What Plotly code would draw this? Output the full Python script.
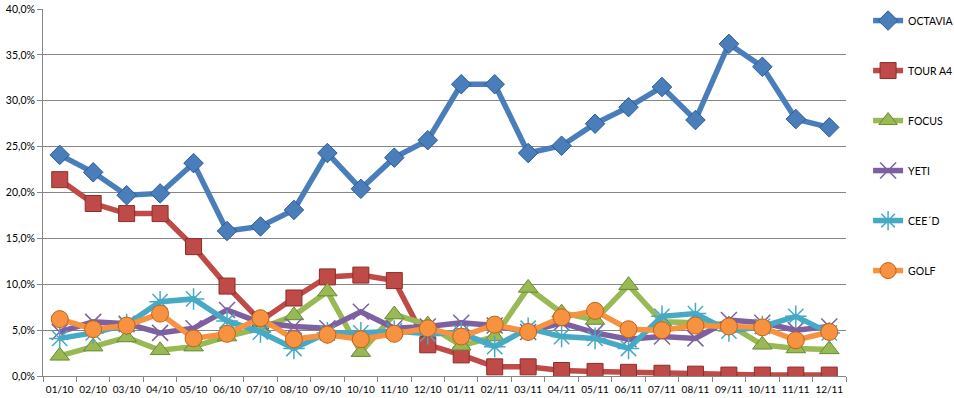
import plotly.graph_objects as go

dates = ["01/10", "02/10", "03/10", "04/10", "05/10", "06/10", "07/10", "08/10", "09/10", "10/10", "11/10", "12/10",
         "01/11", "02/11", "03/11", "04/11", "05/11", "06/11", "07/11", "08/11", "09/11", "10/11", "11/11", "12/11"]

octavia = [24.1, 22.2, 19.7, 19.9, 23.2, 15.8, 16.3, 18.1, 24.3, 20.4, 23.8, 25.7,
           31.8, 31.8, 24.3, 25.1, 27.5, 29.3, 31.5, 27.9, 36.2, 33.7, 28.0, 27.1]
tour_a4 = [21.4, 18.8, 17.7, 17.7, 14.1, 9.8, 6.0, 8.5, 10.8, 11.0, 10.4, 3.4,
           2.3, 1.0, 1.0, 0.6, 0.5, 0.4, 0.3, 0.2, 0.1, 0.1, 0.1, 0.1]
focus = [2.2, 3.2, 4.2, 2.8, 3.2, 4.3, 5.2, 6.6, 9.2, 2.6, 6.7, 5.6,
         3.3, 4.3, 9.6, 6.9, 6.1, 9.9, 5.9, 5.8, 5.6, 3.4, 3.0, 2.9]
yeti = [4.8, 5.9, 5.7, 4.7, 5.2, 7.2, 5.8, 5.4, 5.2, 7.0, 5.2, 5.4,
        5.8, 5.5, 4.8, 5.8, 4.7, 4.0, 4.3, 4.1, 6.1, 5.8, 5.0, 5.4]
ceed = [4.1, 4.7, 5.6, 8.1, 8.4, 6.0, 4.8, 3.0, 4.7, 4.7, 4.9, 4.6,
        4.7, 3.2, 5.2, 4.3, 4.1, 3.0, 6.5, 6.8, 4.9, 5.4, 6.5, 4.7]
golf = [6.2, 5.1, 5.5, 6.8, 4.1, 4.6, 6.3, 4.0, 4.5, 4.0, 4.6, 5.2,
        4.3, 5.6, 4.8, 6.4, 7.1, 5.1, 5.0, 5.5, 5.4, 5.3, 3.9, 4.8]

series = [
    ("OCTAVIA", octavia, "#4A7EBB", "diamond", 15, "#2C5A93"),
    ("TOUR A4", tour_a4, "#BE4B48", "square", 16, "#8C2D2A"),
    ("FOCUS", focus, "#98B954", "triangle-up", 17, "#6A8A33"),
    ("YETI", yeti, "#7D60A0", "x-thin-open", 16, "#7D60A0"),
    ("CEE´D", ceed, "#46AAC5", "asterisk-open", 18, "#46AAC5"),
    ("GOLF", golf, "#F69240", "circle", 17, "#C0651A"),
]

fig = go.Figure()
for i, (name, vals, color, sym, size, edge) in enumerate(series):
    fig.add_trace(go.Scatter(
        x=dates, y=[v / 100 for v in vals], name=name, mode="lines+markers",
        legendgroup=f"g{i}",
        line=dict(color=color, width=5.5),
        marker=dict(symbol=sym, size=size, color=color,
                    line=dict(color=edge, width=1.5 if "open" in sym else 1)),
    ))

fig.update_layout(
    width=954, height=398,
    margin=dict(l=43, r=108, t=9, b=22, autoexpand=False),
    paper_bgcolor="white", plot_bgcolor="white",
    separators=",.",
    font=dict(family="Lato, Open Sans, sans-serif", size=11, color="#000000"),
    showlegend=True,
    legend=dict(x=1.0275, y=1.008, xanchor="left", yanchor="top",
                tracegroupgap=31, font=dict(size=10.5), bgcolor="rgba(0,0,0,0)",
                itemwidth=30, maxheight=398),
    xaxis=dict(type="category", showgrid=False, showline=True, linecolor="#868686",
               linewidth=1, ticks="outside", tickson="boundaries", ticklen=5,
               tickcolor="#868686", tickfont=dict(size=10), tickangle=0,
               ticklabelstandoff=4, automargin=False, range=[-0.5, 23.5]),
    yaxis=dict(range=[0, 0.4], dtick=0.05, tickformat=".1%", showgrid=True,
               gridcolor="#868686", gridwidth=1, showline=True, linecolor="#868686",
               ticks="outside", ticklen=5, tickcolor="#868686", zeroline=False,
               automargin=False, tickfont=dict(size=10.5)),
)

fig.write_html("out.html", config={"displayModeBar": False},
               post_script="document.body.style.margin='0';document.body.style.overflow='hidden';")
